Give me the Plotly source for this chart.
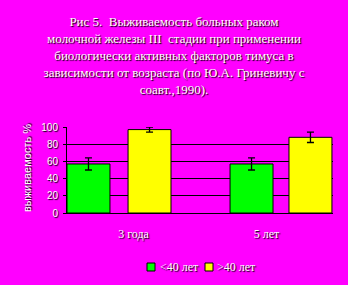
import plotly.graph_objects as go

categories = ["3 года", "5 лет"]
under40 = [57, 57]
under40_err = [7, 7]
over40 = [97, 88]
over40_err = [3, 6]
series_names = ["<40 лет", ">40 лет"]
series_colors = ["#00FF00", "#FFFF00"]
y_ticks = [0, 20, 40, 60, 80, 100]

title_text = ("Рис 5.  Выживаемость больных раком<br>"
              "молочной железы III  стадии при применении<br>"
              "биологически активных факторов тимуса в<br>"
              "зависимости от возраста (по Ю.А. Гриневичу с<br>"
              "соавт.,1990).")

MAG = "#FF00FF"
SH = "1px 1px 1px #000"
serif = "Liberation Serif, Times New Roman, serif"
sans = "Liberation Sans, Arial, sans-serif"

W, H = 348, 285
L, R, T, B = 67, 15, 127, 72
PW, PH = W - L - R, H - T - B


def px_x(px):
    return (px - L) / PW


def px_y(py):
    return (H - B - py) / PH


fig = go.Figure()
fig.add_trace(go.Bar(
    x=categories, y=under40, name=series_names[0],
    marker=dict(color=series_colors[0], line=dict(color="black", width=1)),
    width=0.323, offset=[-0.5, -0.274],
    error_y=dict(type="data", array=under40_err, color="black", thickness=1.3, width=3.5),
))
fig.add_trace(go.Bar(
    x=categories, y=over40, name=series_names[1],
    marker=dict(color=series_colors[1], line=dict(color="black", width=1)),
    width=0.323, offset=[-0.041, 0.169],
    error_y=dict(type="data", array=over40_err, color="black", thickness=1.3, width=3.5),
))

# manual legend (compact, like the reference)
legend_items = [(147, 158), (205, 215)]
shapes = []
annotations = [dict(text="выживаемость %", textangle=-90, x=px_x(27), y=px_y(168),
                    xref="paper", yref="paper", xanchor="center", yanchor="middle",
                    showarrow=False,
                    font=dict(family=sans, size=11, color="white", shadow=SH))]
for (sq_x, tx_x), name, col in zip(legend_items, series_names, series_colors):
    shapes.append(dict(type="rect", xref="paper", yref="paper",
                       x0=px_x(sq_x), x1=px_x(sq_x + 8), y0=px_y(271), y1=px_y(263),
                       fillcolor=col, line=dict(color="black", width=1)))
    annotations.append(dict(text=name, x=px_x(tx_x), y=px_y(267), xref="paper", yref="paper",
                            xanchor="left", yanchor="middle", showarrow=False,
                            font=dict(family=serif, size=12, color="white", shadow=SH)))

fig.update_layout(
    width=W, height=H,
    paper_bgcolor=MAG, plot_bgcolor=MAG,
    margin=dict(l=L, r=R, t=T, b=B),
    barmode="overlay",
    showlegend=False,
    title=dict(text=title_text, x=0.5, xanchor="center", xref="container",
               y=1 - 26 / H, yanchor="top", yref="container",
               font=dict(family=serif, size=13, color="white", shadow=SH)),
    xaxis=dict(type="category", range=[-0.5, 1.5], showline=True, linecolor="black",
               linewidth=1, ticks="", showgrid=False, zeroline=False,
               tickfont=dict(family=serif, size=12, color="white", shadow=SH),
               ticklabelstandoff=10, fixedrange=True),
    yaxis=dict(range=[0, 100], tickvals=y_ticks, showline=True, linecolor="black",
               linewidth=1, ticks="outside", ticklen=3, tickcolor="black",
               showgrid=True, gridcolor="black", gridwidth=1, zeroline=False,
               ticklabelstandoff=3,
               tickfont=dict(family=sans, size=10, color="white", shadow=SH)),
    shapes=shapes,
    annotations=annotations,
)

fig.write_html("out.html")
